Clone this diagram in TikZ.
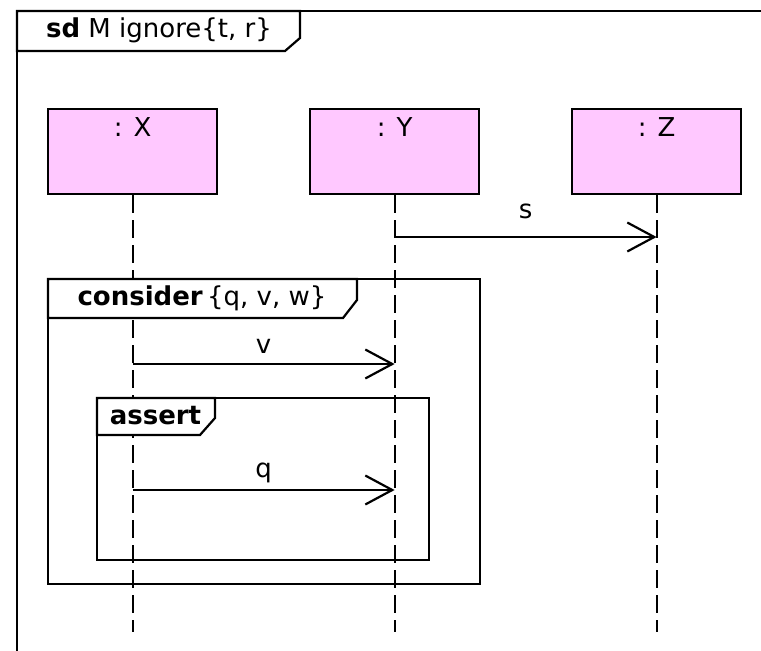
\documentclass[tikz,border=0pt]{standalone}
\usepackage{fontspec}
\setmainfont{DejaVu Sans}
\usetikzlibrary{arrows.meta}
\definecolor{lifepink}{RGB}{255,200,255}
\begin{document}
\begin{tikzpicture}[x=1pt,y=-1pt,
  line width=2.2pt,
  lifebox/.style={draw, fill=lifepink, minimum width=169pt, minimum height=85pt,
    inner sep=0pt, anchor=north west},
  boxlabel/.style={anchor=center, inner sep=0pt, label distance=0pt,
    font=\fontsize{26}{30}\selectfont, yshift=-19pt},
  lifeline/.style={dash pattern=on 18pt off 7pt},
  msg/.style={-{Straight Barb[length=27pt,width=29pt]}},
  msglabel/.style={anchor=base, inner sep=0pt, font=\fontsize{26}{30}\selectfont},
  tabshape/.style={draw, fill=white, line join=miter},
  frametext/.style={anchor=base, inner sep=0pt, font=\fontsize{26}{30}\selectfont},
]
\useasboundingbox (0,0) rectangle (761,651);

% diagram frame, running past the page edges
\draw (775,11) -- (17,11) -- (17,665);

% lifeline heads
\node[lifebox, label={[boxlabel]north:{: X}}] (xbox) at (47,108) {};
\node[lifebox, label={[boxlabel]north:{: Y}}] (ybox) at (309,108) {};
\node[lifebox, label={[boxlabel]north:{: Z}}] (zbox) at (571,108) {};

% lifeline ends
\coordinate (xend) at (xbox.south |- 0,632);
\coordinate (yend) at (ybox.south |- 0,632);
\coordinate (zend) at (zbox.south |- 0,632);

\draw[lifeline] (xbox.south) -- (xend);
\draw[lifeline] (ybox.south) -- (yend);
\draw[lifeline] (zbox.south) -- (zend);

% consider fragment
\draw (48,279) rectangle (480,584);
\draw[tabshape] (48,279) -- (357,279) -- (357,300) -- (343,318) -- (48,318) -- cycle;
\node[frametext] (considerlbl) at (202,305) {\textbf{consider}\,\{q, v, w\}};

% assert fragment
\draw (97,398) rectangle (429,560);
\draw[tabshape] (97,398) -- (215,398) -- (215,418) -- (200,435) -- (97,435) -- cycle;
\node[frametext] (assertlbl) at (155.5,424) {\textbf{assert}};

% frame title tab
\draw[tabshape] (17,11) -- (300,11) -- (300,38) -- (285,51) -- (17,51) -- cycle;
\node[anchor=base, inner sep=0pt, font=\fontsize{26}{30}\selectfont] (title) at (159,37)
  {\textbf{sd} M ignore\{t, r\}};

% messages
\coordinate (ys) at (ybox.south |- 0,237);
\coordinate (zs) at (zbox.south |- 0,237);
\coordinate (xv) at (xbox.south |- 0,364);
\coordinate (yv) at (ybox.south |- 0,364);
\coordinate (xq) at (xbox.south |- 0,490);
\coordinate (yq) at (ybox.south |- 0,490);

\draw[msg] (ys) -- node[msglabel, yshift=19pt] {s} (zs);
\draw[msg] (xv) -- node[msglabel, yshift=11pt] {v} (yv);
\draw[msg] (xq) -- node[msglabel, yshift=13pt] {q} (yq);
\end{tikzpicture}
\end{document}
